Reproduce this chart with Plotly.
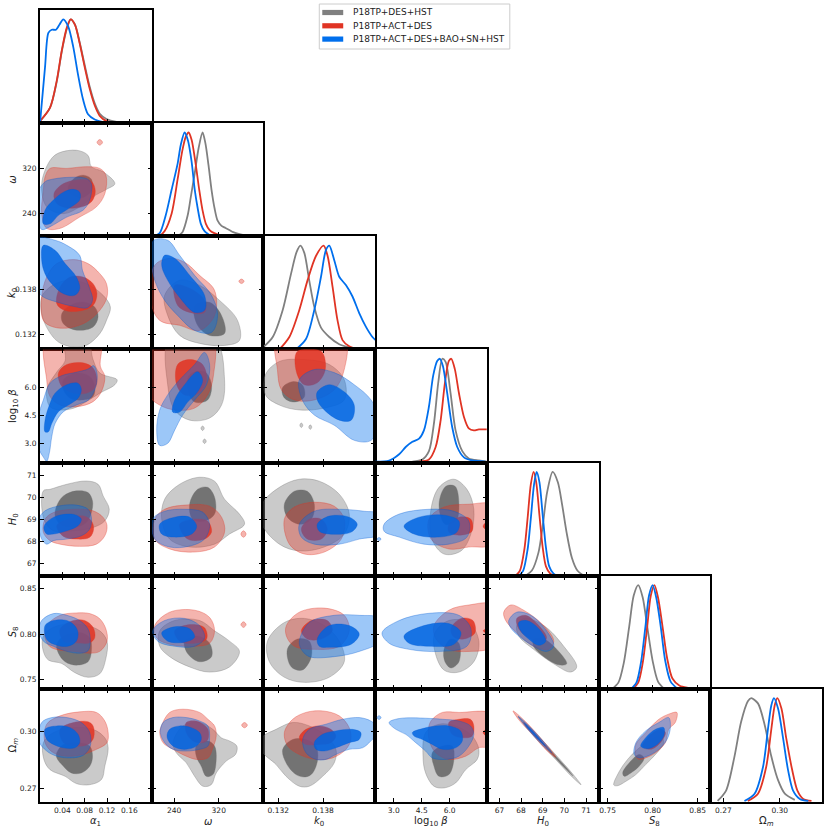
import plotly.graph_objects as go

# ---------------- parameters / axes ----------------
params = ["a1", "w", "k0", "lb", "H0", "S8", "Om"]
axis_titles = ["<i>α</i><sub>1</sub>", "<i>ω</i>", "<i>k</i><sub>0</sub>", "log<sub>10</sub> <i>β</i>",
               "<i>H</i><sub>0</sub>", "<i>S</i><sub>8</sub>", "Ω<sub><i>m</i></sub>"]
ranges = {"a1": [0.0, 0.2], "w": [200, 400], "k0": [0.130, 0.145], "lb": [2.0, 8.0],
          "H0": [66.42, 71.58], "S8": [0.740, 0.864], "Om": [0.263, 0.3225]}
tick_vals = {"a1": [0.04, 0.08, 0.12, 0.16], "w": [240, 320], "k0": [0.132, 0.138],
             "lb": [3.0, 4.5, 6.0], "H0": [67, 68, 69, 70, 71], "S8": [0.75, 0.80, 0.85], "Om": [0.27, 0.30]}
tick_text = {"a1": ["0.04", "0.08", "0.12", "0.16"], "w": ["240", "320"], "k0": ["0.132", "0.138"],
             "lb": ["3.0", "4.5", "6.0"], "H0": ["67", "68", "69", "70", "71"],
             "S8": ["0.75", "0.80", "0.85"], "Om": ["0.27", "0.30"]}

datasets = ["grey", "red", "blue"]
dataset_names = {"grey": "P18TP+DES+HST", "red": "P18TP+ACT+DES", "blue": "P18TP+ACT+DES+BAO+SN+HST"}
line_colors = {"grey": "#808080", "red": "#E03424", "blue": "#006FED"}
outer_fill = {"grey": "rgba(128,128,128,0.42)", "red": "rgba(224,52,36,0.37)", "blue": "rgba(0,111,237,0.39)"}
inner_fill = {"grey": "rgba(100,100,100,0.85)", "red": "rgba(224,52,36,0.88)", "blue": "rgba(0,100,225,0.85)"}
edge_col = {"grey": "rgba(110,110,110,0.55)", "red": "rgba(224,52,36,0.55)", "blue": "rgba(0,90,210,0.55)"}

# ---------------- 1D marginals (x, normalised density) ----------------
marg_a1 = {
    "grey": ([0.0, 0.018, 0.03, 0.039, 0.048, 0.055, 0.0625, 0.071, 0.080, 0.089, 0.098, 0.107, 0.119, 0.137, 0.155, 0.18],
             [0.02, 0.15, 0.40, 0.69, 0.91, 1.0, 0.95, 0.78, 0.56, 0.35, 0.19, 0.09, 0.04, 0.012, 0.004, 0.0]),
    "red": ([0.0, 0.018, 0.03, 0.039, 0.048, 0.055, 0.0625, 0.071, 0.080, 0.089, 0.098, 0.107, 0.119, 0.137, 0.155],
            [0.02, 0.15, 0.41, 0.70, 0.92, 1.0, 0.95, 0.77, 0.54, 0.33, 0.17, 0.07, 0.02, 0.005, 0.0]),
    "blue": ([0.0, 0.009, 0.015, 0.021, 0.0286, 0.035, 0.0417, 0.0506, 0.0595, 0.068, 0.077, 0.086, 0.098, 0.113, 0.13],
             [0.0, 0.54, 0.87, 0.90, 0.90, 0.95, 1.0, 0.93, 0.735, 0.47, 0.23, 0.085, 0.035, 0.01, 0.0]),
}
marg_w = {
    "grey": ([246, 255, 264.3, 270, 276.8, 284, 291, 296, 301.8, 307, 312.5, 318, 325, 332, 339, 346, 354, 365, 375],
             [0.0, 0.04, 0.2, 0.38, 0.6, 0.85, 1.0, 0.9, 0.68, 0.45, 0.27, 0.15, 0.1, 0.08, 0.06, 0.04, 0.025, 0.01, 0.0]),
    "red": ([214, 223.2, 235.7, 246.4, 255, 261, 266, 271.4, 278.6, 285, 291, 297, 303.6, 312, 320, 330],
            [0.0, 0.05, 0.22, 0.55, 0.83, 0.96, 1.0, 0.93, 0.7, 0.45, 0.25, 0.12, 0.06, 0.03, 0.015, 0.0]),
    "blue": ([205, 214.3, 225, 235.7, 246.4, 252, 258.9, 265, 271.4, 277, 282, 288, 294.6, 307],
             [0.0, 0.03, 0.2, 0.45, 0.7, 0.88, 1.0, 0.92, 0.72, 0.45, 0.28, 0.12, 0.05, 0.0]),
}
marg_k0 = {
    "grey": ([0.1301, 0.13125, 0.13259, 0.13371, 0.13446, 0.13496, 0.13549, 0.13616, 0.13683, 0.13773, 0.13884, 0.14018, 0.14152, 0.14286, 0.1445],
             [0.03, 0.12, 0.38, 0.73, 0.94, 1.0, 0.93, 0.66, 0.41, 0.21, 0.12, 0.05, 0.02, 0.005, 0.0]),
    "red": ([0.13214, 0.13348, 0.13482, 0.13594, 0.13705, 0.13808, 0.13862, 0.13929, 0.13995, 0.14062, 0.14152, 0.14286],
            [0.0, 0.12, 0.38, 0.67, 0.9, 1.0, 0.9, 0.6, 0.28, 0.09, 0.03, 0.0]),
    "blue": ([0.13437, 0.13571, 0.13683, 0.13773, 0.1384, 0.13884, 0.13951, 0.14018, 0.14107, 0.14196, 0.14286, 0.14375, 0.14464, 0.1452],
             [0.0, 0.1, 0.38, 0.7, 0.96, 1.0, 0.86, 0.7, 0.62, 0.51, 0.35, 0.22, 0.12, 0.08]),
}
marg_lb = {
    "grey": ([4.0, 4.535, 4.89, 5.16, 5.39, 5.61, 5.785, 6.05, 6.32, 6.68, 7.03, 7.57, 8.0],
             [0.01, 0.03, 0.11, 0.38, 0.77, 1.0, 0.97, 0.67, 0.31, 0.11, 0.04, 0.02, 0.01]),
    "red": ([4.36, 4.89, 5.25, 5.52, 5.75, 5.96, 6.09, 6.28, 6.5, 6.77, 7.03, 7.30, 7.57, 7.84, 8.0],
            [0.01, 0.03, 0.15, 0.41, 0.77, 0.98, 1.0, 0.9, 0.67, 0.44, 0.33, 0.31, 0.32, 0.32, 0.32]),
    "blue": ([2.0, 2.75, 3.29, 3.64, 4.0, 4.36, 4.62, 4.89, 5.12, 5.34, 5.48, 5.64, 5.87, 6.14, 6.41, 6.77, 7.21, 7.93],
             [0.01, 0.02, 0.08, 0.15, 0.2, 0.23, 0.31, 0.54, 0.84, 0.98, 1.0, 0.93, 0.67, 0.34, 0.15, 0.05, 0.02, 0.01]),
}
marg_H0 = {
    "grey": ([68.2, 68.5, 68.8, 69.0, 69.2, 69.46, 69.7, 69.9, 70.1, 70.35, 70.6, 70.9],
             [0.0, 0.05, 0.22, 0.48, 0.8, 1.0, 0.9, 0.68, 0.42, 0.17, 0.05, 0.0]),
    "red": ([67.75, 67.95, 68.15, 68.3, 68.45, 68.58, 68.7, 68.85, 69.0, 69.15, 69.35, 69.55],
            [0.0, 0.05, 0.25, 0.55, 0.88, 1.0, 0.9, 0.58, 0.27, 0.09, 0.02, 0.0]),
    "blue": ([67.9, 68.1, 68.3, 68.45, 68.6, 68.72, 68.85, 69.0, 69.15, 69.3, 69.5, 69.7],
             [0.0, 0.05, 0.25, 0.55, 0.88, 1.0, 0.9, 0.58, 0.27, 0.09, 0.02, 0.0]),
}
marg_S8 = {
    "grey": ([0.755, 0.762, 0.768, 0.774, 0.779, 0.784, 0.789, 0.794, 0.8, 0.806, 0.813],
             [0.0, 0.06, 0.25, 0.6, 0.9, 1.0, 0.88, 0.6, 0.27, 0.07, 0.0]),
    "red": ([0.778, 0.784, 0.789, 0.794, 0.798, 0.802, 0.806, 0.811, 0.816, 0.822, 0.83, 0.84, 0.85],
            [0.0, 0.06, 0.25, 0.6, 0.9, 1.0, 0.88, 0.6, 0.3, 0.1, 0.03, 0.01, 0.0]),
    "blue": ([0.776, 0.782, 0.787, 0.792, 0.796, 0.8, 0.804, 0.809, 0.814, 0.82, 0.828],
             [0.0, 0.06, 0.25, 0.6, 0.9, 1.0, 0.88, 0.6, 0.27, 0.07, 0.0]),
}
marg_Om = {
    "grey": ([0.2669, 0.2714, 0.2759, 0.2794, 0.2830, 0.2848, 0.2884, 0.2920, 0.2955, 0.2991, 0.3027, 0.3080],
             [0.01, 0.11, 0.44, 0.77, 0.97, 1.0, 0.95, 0.74, 0.44, 0.21, 0.08, 0.02]),
    "red": ([0.2830, 0.2884, 0.2928, 0.2955, 0.2973, 0.2987, 0.3009, 0.3035, 0.3066, 0.3094, 0.3125, 0.3169],
            [0.01, 0.08, 0.34, 0.7, 0.93, 1.0, 0.9, 0.61, 0.31, 0.11, 0.03, 0.01]),
    "blue": ([0.2812, 0.2866, 0.2911, 0.2937, 0.2955, 0.2969, 0.2991, 0.3018, 0.3044, 0.3071, 0.3107, 0.3152],
             [0.01, 0.08, 0.34, 0.7, 0.93, 1.0, 0.9, 0.61, 0.31, 0.11, 0.03, 0.01]),
}
marginals = {"a1": marg_a1, "w": marg_w, "k0": marg_k0, "lb": marg_lb, "H0": marg_H0, "S8": marg_S8, "Om": marg_Om}

# ---------------- 2D credible regions (outer = 95%, inner = 68%) ----------------
c_w_a1 = {
    "grey": {"outer": [[(0.003, 293), (0.018, 334), (0.033, 347), (0.066, 352), (0.086, 343), (0.092, 323), (0.113, 314), (0.134, 293), (0.119, 283), (0.095, 270), (0.071, 252), (0.042, 240), (0.012, 252)]],
             "inner": [[(0.05, 285), (0.062, 303), (0.078, 308), (0.092, 301), (0.092, 280), (0.075, 268), (0.058, 272)]]},
    "red": {"outer": [[(0.009, 305), (0.018, 320), (0.048, 320), (0.083, 323), (0.107, 320), (0.118, 308), (0.116, 275), (0.101, 252), (0.071, 234), (0.036, 214), (0.012, 214), (0.003, 240), (0.006, 281)],
                      [(0.102, 366), (0.107, 371), (0.112, 366), (0.107, 361)]],
            "inner": [[(0.025, 275), (0.04, 292), (0.07, 300), (0.092, 297), (0.099, 280), (0.093, 262), (0.075, 252), (0.05, 250), (0.03, 258)]]},
    "blue": {"outer": [[(-0.003, 280), (0.01, 297), (0.018, 300), (0.048, 304), (0.083, 302), (0.092, 293), (0.089, 264), (0.077, 246), (0.048, 234), (0.018, 217), (0.003, 212), (-0.003, 230)]],
             "inner": [[(0.009, 246), (0.024, 264), (0.042, 278), (0.059, 283), (0.071, 278), (0.071, 264), (0.056, 252), (0.033, 237), (0.018, 222), (0.006, 222)]]},
}
c_k0_a1 = {
    "grey": {"outer": [[(0.003, 0.13695), (0.018, 0.13828), (0.048, 0.13916), (0.083, 0.13872), (0.113, 0.13717), (0.126, 0.13562), (0.119, 0.13385), (0.107, 0.13209), (0.083, 0.13054), (0.06, 0.13031), (0.033, 0.13098), (0.015, 0.13253), (0.003, 0.13474)]],
             "inner": [[(0.039, 0.13474), (0.054, 0.13584), (0.077, 0.13629), (0.098, 0.13562), (0.104, 0.1343), (0.095, 0.13297), (0.071, 0.13253), (0.051, 0.13288), (0.04, 0.13363)]]},
    "red": {"outer": [[(0.003, 0.13695), (0.012, 0.1396), (0.03, 0.14138), (0.06, 0.14191), (0.086, 0.14138), (0.107, 0.14005), (0.119, 0.13872), (0.12, 0.13695), (0.107, 0.13518), (0.083, 0.13363), (0.054, 0.13288), (0.024, 0.13297), (0.006, 0.13385)]],
            "inner": [[(0.03, 0.13607), (0.036, 0.13828), (0.054, 0.1396), (0.077, 0.1396), (0.095, 0.13872), (0.102, 0.13739), (0.095, 0.13584), (0.071, 0.1351), (0.044, 0.13518)]]},
    "blue": {"outer": [[(-0.004, 0.1447), (0.027, 0.14447), (0.048, 0.1438), (0.071, 0.14248), (0.076, 0.14049), (0.088, 0.13828), (0.094, 0.13651), (0.085, 0.13554), (0.06, 0.13571), (0.03, 0.13629), (0.006, 0.13695), (-0.004, 0.13783)]],
             "inner": [[(0.006, 0.1438), (0.027, 0.14314), (0.045, 0.14138), (0.065, 0.1396), (0.071, 0.13806), (0.062, 0.13717), (0.042, 0.13739), (0.021, 0.13872), (0.009, 0.14005), (0.003, 0.14182)]]},
}
c_lb_a1 = {
    "grey": {"outer": [[(0.045, 8.5), (0.085, 8.5), (0.095, 7.46), (0.107, 6.75), (0.138, 6.39), (0.134, 6.13), (0.107, 5.68), (0.083, 5.23), (0.06, 4.88), (0.036, 4.79), (0.018, 4.96), (0.012, 5.86), (0.03, 6.8), (0.045, 7.4)]],
             "inner": [[(0.042, 6.39), (0.065, 6.75), (0.089, 6.57), (0.098, 6.04), (0.095, 5.5), (0.077, 5.32), (0.054, 5.41), (0.042, 5.86)]]},
    "red": {"outer": [[(0.012, 8.6), (0.107, 8.6), (0.108, 7.11), (0.116, 6.57), (0.110, 5.77), (0.095, 5.23), (0.065, 4.96), (0.036, 5.05), (0.018, 5.5), (0.012, 6.39)]],
            "inner": [[(0.033, 6.75), (0.048, 7.2), (0.077, 7.29), (0.095, 7.02), (0.102, 6.39), (0.098, 5.95), (0.083, 5.68), (0.06, 5.68), (0.039, 6.04)]]},
    "blue": {"outer": [[(0.096, 7.14), (0.102, 6.75), (0.1, 6.04), (0.088, 5.35), (0.065, 5.05), (0.042, 4.7), (0.027, 4.07), (0.021, 3.36), (0.017, 2.55), (0.012, 2.07), (0.006, 2.29), (-0.003, 2.82), (-0.003, 4.43), (0.006, 5.32), (0.018, 6.21), (0.039, 6.61), (0.065, 6.79), (0.086, 6.96)]],
             "inner": [[(0.018, 5.14), (0.027, 5.68), (0.048, 6.13), (0.068, 6.21), (0.074, 5.86), (0.068, 5.41), (0.051, 5.05), (0.033, 4.7), (0.021, 4.07), (0.015, 3.63), (0.009, 3.63), (0.009, 4.25)]]},
}
c_H0_a1 = {
    "grey": {"outer": [[(0.006, 70.29), (0.018, 70.36), (0.048, 70.59), (0.083, 70.74), (0.104, 70.59), (0.113, 70.06), (0.124, 69.45), (0.116, 68.92), (0.095, 68.62), (0.06, 68.47), (0.024, 68.47), (0.007, 69.0)]],
             "inner": [[(0.03, 69.61), (0.042, 70.06), (0.065, 70.29), (0.086, 70.21), (0.094, 69.83), (0.092, 69.3), (0.083, 68.85), (0.06, 68.62), (0.036, 68.77), (0.027, 69.15)]]},
    "red": {"outer": [[(0.009, 69.0), (0.024, 69.3), (0.06, 69.45), (0.095, 69.38), (0.113, 69.08), (0.12, 68.7), (0.116, 68.24), (0.101, 67.86), (0.071, 67.76), (0.036, 67.86), (0.018, 68.02), (0.006, 68.4)]],
            "inner": [[(0.03, 68.7), (0.048, 69.0), (0.077, 69.15), (0.092, 68.92), (0.096, 68.55), (0.089, 68.17), (0.065, 68.09), (0.042, 68.21)]]},
    "blue": {"outer": [[(-0.002, 69.0), (0.009, 69.38), (0.036, 69.61), (0.065, 69.64), (0.086, 69.45), (0.092, 69.08), (0.089, 68.55), (0.074, 68.24), (0.048, 68.09), (0.024, 68.02), (0.012, 67.86), (0.003, 68.09)]],
             "inner": [[(0.009, 68.77), (0.024, 69.08), (0.048, 69.23), (0.065, 69.18), (0.074, 69.0), (0.068, 68.7), (0.048, 68.47), (0.024, 68.32), (0.012, 68.32), (0.007, 68.55)]]},
}
c_S8_a1 = {
    "grey": {"outer": [[(0.005, 0.7961), (0.018, 0.8055), (0.048, 0.8112), (0.083, 0.8093), (0.107, 0.8036), (0.12, 0.7923), (0.118, 0.7735), (0.107, 0.7565), (0.086, 0.7527), (0.062, 0.7579), (0.039, 0.7678), (0.015, 0.7716), (0.006, 0.7811)]],
             "inner": [[(0.03, 0.7886), (0.042, 0.798), (0.071, 0.8017), (0.089, 0.7961), (0.092, 0.7811), (0.086, 0.7697), (0.065, 0.766), (0.045, 0.7697), (0.033, 0.7791)]]},
    "red": {"outer": [[(0.012, 0.8093), (0.036, 0.8206), (0.065, 0.8232), (0.089, 0.8225), (0.107, 0.8168), (0.118, 0.8055), (0.12, 0.7923), (0.107, 0.7811), (0.089, 0.7791), (0.06, 0.7811), (0.036, 0.7823), (0.018, 0.7861), (0.009, 0.7961)]],
            "inner": [[(0.036, 0.8055), (0.06, 0.8149), (0.08, 0.8149), (0.095, 0.8074), (0.098, 0.7961), (0.089, 0.7904), (0.065, 0.7904), (0.042, 0.7923)]]},
    "blue": {"outer": [[(0.003, 0.8149), (0.024, 0.8225), (0.048, 0.8206), (0.071, 0.8149), (0.086, 0.8055), (0.09, 0.7923), (0.086, 0.7818), (0.071, 0.7791), (0.048, 0.7811), (0.024, 0.7867), (0.006, 0.7923), (-0.002, 0.8036)]],
             "inner": [[(0.009, 0.8093), (0.024, 0.8149), (0.048, 0.8149), (0.062, 0.8093), (0.068, 0.8017), (0.065, 0.7923), (0.05, 0.7867), (0.03, 0.7878), (0.012, 0.7942)]]},
}
c_Om_a1 = {
    "grey": {"outer": [[(0.006, 0.2942), (0.024, 0.2995), (0.06, 0.3021), (0.095, 0.3012), (0.116, 0.2968), (0.122, 0.2915), (0.116, 0.2818), (0.11, 0.2748), (0.089, 0.2721), (0.065, 0.2727), (0.045, 0.2765), (0.018, 0.28), (0.007, 0.2854)]],
             "inner": [[(0.03, 0.2889), (0.042, 0.2933), (0.071, 0.2942), (0.089, 0.2924), (0.094, 0.2871), (0.089, 0.2818), (0.074, 0.2783), (0.056, 0.2783), (0.039, 0.2827), (0.03, 0.2863)]]},
    "red": {"outer": [[(0.012, 0.3039), (0.036, 0.3083), (0.071, 0.3104), (0.101, 0.3101), (0.116, 0.3056), (0.122, 0.2995), (0.12, 0.2942), (0.101, 0.2907), (0.077, 0.288), (0.048, 0.2871), (0.024, 0.2889), (0.009, 0.2942)]],
            "inner": [[(0.036, 0.3012), (0.06, 0.3048), (0.086, 0.3052), (0.095, 0.303), (0.096, 0.2968), (0.086, 0.2933), (0.065, 0.2924), (0.042, 0.2942)]]},
    "blue": {"outer": [[(0.003, 0.3048), (0.021, 0.3074), (0.048, 0.3074), (0.074, 0.3048), (0.089, 0.2995), (0.09, 0.2924), (0.077, 0.2875), (0.054, 0.2862), (0.03, 0.2871), (0.012, 0.2898), (-0.002, 0.2951)]],
             "inner": [[(0.009, 0.3012), (0.03, 0.303), (0.054, 0.3021), (0.068, 0.2986), (0.071, 0.2942), (0.062, 0.2915), (0.042, 0.2915), (0.024, 0.2933), (0.012, 0.2959)]]},
}
c_k0_w = {
    "grey": {"outer": [[(223.2, 0.13717), (250, 0.13916), (285.7, 0.1385), (321.4, 0.1365), (353.6, 0.13385), (357.1, 0.1312), (330.4, 0.13053), (285.7, 0.1308), (250, 0.13186), (228.6, 0.13451)]],
             "inner": [[(276.8, 0.13584), (303.6, 0.13624), (325, 0.13451), (330.4, 0.13212), (303.6, 0.13186), (282.1, 0.13319)]]},
    "red": {"outer": [[(205.4, 0.14115), (232.1, 0.14208), (258.9, 0.14155), (285.7, 0.13982), (312.5, 0.13783), (312.5, 0.13451), (285.7, 0.13252), (250, 0.13319), (214.3, 0.13385), (198, 0.1365)],
                      [(356, 0.13903), (360.7, 0.13933), (365.4, 0.13903), (360.7, 0.13873)]],
            "inner": [[(241.1, 0.1385), (267.9, 0.1381), (294.6, 0.1365), (294.6, 0.13491), (267.9, 0.13491), (246.4, 0.13584)]]},
    "blue": {"outer": [[(203.6, 0.14447), (228.6, 0.14447), (250, 0.14248), (276.8, 0.13982), (307.1, 0.13717), (317.9, 0.13451), (307.1, 0.13226), (276.8, 0.13252), (246.4, 0.13451), (223.2, 0.1365), (205.4, 0.13916), (198, 0.14248)]],
             "inner": [[(223.2, 0.14248), (241.1, 0.14208), (267.9, 0.13982), (294.6, 0.13717), (294.6, 0.13518), (276.8, 0.13491), (250, 0.1369), (228.6, 0.13916), (217.9, 0.14115)]]},
}
c_lb_w = {
    "grey": {"outer": [[(232.1, 8.6), (312.5, 8.6), (330.4, 6.39), (325, 5.05), (303.6, 4.36), (267.9, 4.25), (241.1, 4.79), (228.6, 6.13)],
                       [(288.1, 3.82), (291.1, 3.94), (294.1, 3.82), (291.1, 3.7)],
                       [(291.6, 3.13), (294.6, 3.25), (297.6, 3.13), (294.6, 3.01)]],
             "inner": [[(267.9, 6.66), (294.6, 6.82), (307.1, 6.13), (300, 5.32), (276.8, 5.21), (264.3, 5.86)]]},
    "red": {"outer": [[(195, 8.6), (307.1, 8.6), (310.7, 6.66), (300, 5.59), (276.8, 4.89), (241.1, 4.79), (214.3, 5.05), (195, 5.59)]],
            "inner": [[(246.4, 7.2), (267.9, 7.46), (291.1, 7.2), (298.2, 6.39), (285.7, 5.7), (258.9, 5.59), (244.6, 6.13)]]},
    "blue": {"outer": [[(294.6, 7.84), (303.6, 7.2), (298.2, 6.13), (276.8, 5.32), (255.4, 4.52), (241.1, 3.72), (228.6, 3.02), (214.3, 2.91), (208.9, 3.72), (214.3, 4.79), (228.6, 5.59), (250, 6.39), (276.8, 7.2)]],
             "inner": [[(282.1, 6.82), (291.1, 6.39), (282.1, 5.75), (264.3, 5.21), (250, 4.68), (237.5, 4.68), (241.1, 5.32), (258.9, 6.13)]]},
}
c_H0_w = {
    "grey": {"outer": [[(223.2, 69.91), (250, 70.59), (285.7, 70.91), (312.5, 70.73), (330.4, 69.91), (357.1, 69.23), (366.1, 68.77), (339.3, 68.32), (312.5, 67.86), (267.9, 67.73), (232.1, 68.09), (217.9, 69.0)]],
             "inner": [[(267.9, 69.68), (282.1, 70.36), (300, 70.45), (312.5, 70.0), (312.5, 69.23), (294.6, 68.91), (273.2, 69.0)]]},
    "red": {"outer": [[(205.4, 69.0), (223.2, 69.45), (258.9, 69.64), (303.6, 69.59), (325, 69.09), (330.4, 68.41), (312.5, 67.73), (276.8, 67.5), (232.1, 67.64), (205.4, 68.09)],
                      [(359.6, 68.32), (364.3, 68.47), (369, 68.32), (364.3, 68.17)]],
            "inner": [[(250, 68.77), (276.8, 69.0), (300, 68.91), (307.1, 68.41), (294.6, 68.09), (264.3, 68.09)]]},
    "blue": {"outer": [[(201.8, 69.0), (223.2, 69.36), (258.9, 69.45), (291.1, 69.32), (303.6, 68.77), (294.6, 68.09), (267.9, 67.77), (232.1, 67.73), (205.4, 68.09)]],
             "inner": [[(214.3, 68.77), (241.1, 69.09), (267.9, 69.09), (280.4, 68.68), (271.4, 68.32), (241.1, 68.18), (217.9, 68.32)]]},
}
c_S8_w = {
    "grey": {"outer": [[(214.3, 0.8036), (241.1, 0.8149), (285.7, 0.8149), (312.5, 0.8036), (339.3, 0.7923), (357.1, 0.781), (339.3, 0.764), (303.6, 0.7584), (267.9, 0.764), (232.1, 0.7753), (214.3, 0.7867)]],
             "inner": [[(258.9, 0.7923), (282.1, 0.798), (303.6, 0.79), (307.1, 0.7753), (285.7, 0.7697), (264.3, 0.7787)]]},
    "red": {"outer": [[(205.4, 0.8093), (232.1, 0.824), (276.8, 0.8262), (303.6, 0.8183), (312.5, 0.8036), (303.6, 0.79), (276.8, 0.7867), (232.1, 0.7889), (208.9, 0.7957)],
                      [(359.6, 0.8104), (364.3, 0.8135), (369, 0.8104), (364.3, 0.8073)]],
            "inner": [[(241.1, 0.8036), (267.9, 0.8104), (294.6, 0.807), (298.2, 0.7946), (276.8, 0.79), (250, 0.7923)]]},
    "blue": {"outer": [[(201.8, 0.8036), (223.2, 0.8149), (258.9, 0.8172), (285.7, 0.8093), (294.6, 0.7957), (276.8, 0.7867), (241.1, 0.7867), (210.7, 0.7923)]],
             "inner": [[(217.9, 0.8014), (241.1, 0.8081), (267.9, 0.8059), (276.8, 0.7968), (258.9, 0.7912), (228.6, 0.7923)]]},
}
c_Om_w = {
    "grey": {"outer": [[(255.9, 0.303), (285.7, 0.3048), (309.5, 0.3012), (324.4, 0.2968), (339.3, 0.2951), (352.4, 0.2924), (350, 0.288), (333.3, 0.2845), (315.5, 0.2783), (306.5, 0.2721), (291.7, 0.2713), (276.8, 0.2765), (261.9, 0.2836), (244, 0.2889), (238.1, 0.2942)]],
             "inner": [[(279.8, 0.2924), (300.6, 0.2951), (312.5, 0.2924), (315.5, 0.2854), (309.5, 0.2774), (297.6, 0.2765), (288.7, 0.2818), (279.8, 0.2871)]]},
    "red": {"outer": [[(217.3, 0.303), (232.1, 0.3101), (255.9, 0.3118), (285.7, 0.3101), (300.6, 0.3065), (312.5, 0.303), (315.5, 0.2977), (309.5, 0.2915), (300.6, 0.2862), (279.8, 0.2854), (261.9, 0.2871), (238.1, 0.2907), (220.2, 0.2942), (214.3, 0.2995)],
                      [(361, 0.3034), (366.1, 0.3048), (371.2, 0.3034), (366.1, 0.302)]],
            "inner": [[(261.9, 0.3048), (279.8, 0.3056), (291.7, 0.3039), (300.6, 0.3012), (300.6, 0.2959), (291.7, 0.2942), (273.8, 0.2951), (261.9, 0.2995)]]},
    "blue": {"outer": [[(220.2, 0.3048), (238.1, 0.3074), (261.9, 0.3074), (285.7, 0.3056), (300.6, 0.303), (303.6, 0.2968), (300.6, 0.2924), (285.7, 0.2907), (261.9, 0.2898), (238.1, 0.2907), (223.2, 0.2942), (215.5, 0.2995)]],
             "inner": [[(232.1, 0.3012), (250, 0.303), (270.8, 0.3021), (285.7, 0.2995), (288.7, 0.2959), (279.8, 0.2924), (261.9, 0.2907), (244, 0.2915), (232.1, 0.2942), (227.4, 0.2977)]]},
}
c_lb_k0 = {
    "grey": {"outer": [[(0.13027, 6.66), (0.13214, 7.36), (0.13549, 7.46), (0.13884, 7.2), (0.14085, 6.39), (0.14085, 5.32), (0.13817, 4.89), (0.13482, 4.79), (0.13214, 5.05), (0.13027, 5.59)],
                       [(0.13489, 3.98), (0.13509, 4.1), (0.13529, 3.98), (0.13509, 3.86)],
                       [(0.13609, 3.88), (0.13629, 4.0), (0.13649, 3.88), (0.13629, 3.76)]],
             "inner": [[(0.13254, 5.96), (0.13388, 6.29), (0.13522, 6.13), (0.13549, 5.48), (0.13415, 5.21), (0.13281, 5.43)]]},
    "red": {"outer": [[(0.13188, 8.6), (0.14085, 8.6), (0.14085, 6.93), (0.13951, 5.86), (0.13683, 5.32), (0.13415, 5.32), (0.13241, 5.86), (0.13188, 6.93)]],
            "inner": [[(0.13455, 7.89), (0.13777, 7.89), (0.1383, 6.93), (0.13723, 6.23), (0.13549, 6.13), (0.13442, 6.82)]]},
    "blue": {"outer": [[(0.13482, 6.39), (0.13683, 6.93), (0.13951, 6.77), (0.14219, 6.13), (0.14446, 5.32), (0.1456, 4.25), (0.14446, 3.18), (0.14219, 3.18), (0.13951, 3.98), (0.13683, 4.52), (0.13522, 5.32)]],
             "inner": [[(0.13723, 5.75), (0.13884, 6.13), (0.14085, 5.75), (0.14219, 5.05), (0.14179, 4.25), (0.14018, 4.25), (0.13817, 4.79), (0.13723, 5.32)]]},
}
c_H0_k0 = {
    "grey": {"outer": [[(0.1298, 69.68), (0.13214, 70.45), (0.13482, 70.82), (0.1375, 70.73), (0.14018, 70.14), (0.14152, 69.23), (0.14085, 68.32), (0.13817, 67.73), (0.13482, 67.55), (0.13214, 67.86), (0.1298, 68.77)]],
             "inner": [[(0.13281, 69.68), (0.13415, 70.27), (0.13589, 70.27), (0.13683, 69.68), (0.13643, 69.0), (0.13482, 68.77), (0.13321, 69.09)]]},
    "red": {"outer": [[(0.13281, 69.0), (0.13415, 69.55), (0.13683, 69.77), (0.13951, 69.59), (0.14085, 69.0), (0.14045, 68.09), (0.13817, 67.5), (0.13549, 67.41), (0.13348, 67.86)]],
            "inner": [[(0.13509, 68.55), (0.13616, 69.0), (0.13777, 69.0), (0.13857, 68.55), (0.13777, 68.09), (0.13589, 68.09)]]},
    "blue": {"outer": [[(0.13482, 68.77), (0.13683, 69.36), (0.14018, 69.45), (0.14353, 69.36), (0.1456, 69.23), (0.1456, 68.32), (0.14286, 68.09), (0.14018, 67.86), (0.13683, 67.86), (0.13509, 68.18)]],
             "inner": [[(0.13723, 68.77), (0.13884, 69.14), (0.14152, 69.09), (0.14259, 68.77), (0.14179, 68.41), (0.13884, 68.32), (0.1375, 68.45)]]},
}
c_S8_k0 = {
    "grey": {"outer": [[(0.13054, 0.7923), (0.13281, 0.8127), (0.13549, 0.8172), (0.13817, 0.8093), (0.14018, 0.7923), (0.14085, 0.7697), (0.13884, 0.7527), (0.13549, 0.7471), (0.13281, 0.7527), (0.1308, 0.7697)]],
             "inner": [[(0.13321, 0.7833), (0.13455, 0.7946), (0.13616, 0.7923), (0.13643, 0.7753), (0.13522, 0.7606), (0.13375, 0.764)]]},
    "red": {"outer": [[(0.13308, 0.8093), (0.13482, 0.824), (0.13817, 0.8285), (0.14085, 0.8206), (0.14152, 0.8036), (0.14018, 0.7867), (0.13683, 0.7833), (0.13415, 0.7867), (0.13308, 0.798)]],
            "inner": [[(0.13509, 0.8036), (0.13643, 0.8149), (0.13857, 0.8149), (0.13924, 0.8036), (0.13777, 0.7946), (0.13589, 0.7946)]]},
    "blue": {"outer": [[(0.13482, 0.7923), (0.13616, 0.8127), (0.13951, 0.8206), (0.14286, 0.8206), (0.1456, 0.8172), (0.1456, 0.7923), (0.14286, 0.781), (0.13951, 0.7753), (0.13616, 0.7753), (0.13509, 0.7833)]],
             "inner": [[(0.13723, 0.7946), (0.13884, 0.8093), (0.14152, 0.8093), (0.14286, 0.8002), (0.14179, 0.7889), (0.13884, 0.7855), (0.1375, 0.7867)]]},
}
c_Om_k0 = {
    "grey": {"outer": [[(0.1298, 0.2968), (0.1317, 0.3012), (0.13393, 0.3048), (0.13616, 0.303), (0.13839, 0.2977), (0.13973, 0.2907), (0.13951, 0.2836), (0.13795, 0.2765), (0.13616, 0.2713), (0.13482, 0.2713), (0.13304, 0.2765), (0.1317, 0.2827), (0.1298, 0.2898)]],
             "inner": [[(0.13259, 0.2907), (0.13393, 0.2959), (0.13571, 0.2959), (0.13705, 0.2924), (0.13728, 0.2854), (0.13661, 0.2783), (0.13571, 0.2762), (0.13438, 0.2774), (0.13304, 0.2836)]]},
    "red": {"outer": [[(0.13281, 0.2995), (0.13393, 0.3065), (0.13571, 0.3101), (0.13795, 0.3109), (0.14018, 0.3083), (0.14152, 0.3021), (0.14174, 0.2959), (0.14107, 0.2907), (0.13929, 0.2862), (0.13705, 0.2854), (0.13482, 0.288), (0.13326, 0.2924)]],
            "inner": [[(0.13482, 0.2968), (0.13571, 0.3012), (0.1375, 0.303), (0.13906, 0.3012), (0.13973, 0.2977), (0.13906, 0.2942), (0.1375, 0.2933), (0.13571, 0.2933)]]},
    "blue": {"outer": [[(0.13527, 0.2959), (0.13616, 0.3012), (0.13839, 0.3039), (0.14063, 0.3065), (0.14286, 0.3074), (0.14442, 0.3056), (0.1456, 0.3012), (0.14442, 0.2951), (0.1433, 0.2915), (0.14152, 0.2907), (0.13973, 0.288), (0.13839, 0.2854), (0.13705, 0.2854), (0.13571, 0.2889)]],
             "inner": [[(0.13683, 0.2942), (0.13795, 0.2986), (0.13973, 0.3004), (0.14196, 0.3012), (0.14308, 0.2995), (0.14286, 0.2959), (0.14152, 0.2942), (0.13973, 0.2915), (0.13817, 0.2898), (0.13705, 0.2907)]]},
}
c_H0_lb = {
    "grey": {"outer": [[(5.0, 69.45), (5.43, 70.45), (6.23, 70.82), (6.93, 70.36), (7.3, 69.45), (7.14, 68.32), (6.61, 67.55), (5.7, 67.41), (5.05, 68.09)]],
             "inner": [[(5.43, 69.68), (5.8, 70.5), (6.29, 70.5), (6.5, 69.68), (6.34, 68.91), (5.75, 68.77)]]},
    "red": {"outer": [[(4.89, 69.0), (5.7, 69.55), (7.03, 69.68), (8.3, 69.64), (8.3, 67.86), (7.03, 67.73), (5.96, 67.64), (5.0, 68.09)]],
            "inner": [[(5.96, 68.77), (6.5, 69.09), (7.14, 69.0), (7.2, 68.45), (6.5, 68.27), (5.96, 68.41)],
                      [(7.8, 68.68), (7.95, 68.83), (8.1, 68.68), (7.95, 68.53)]]},
    "blue": {"outer": [[(2.48, 68.77), (3.29, 69.23), (4.89, 69.45), (6.23, 69.36), (7.03, 68.91), (6.93, 68.18), (5.96, 67.86), (4.62, 67.86), (3.29, 68.18), (2.48, 68.45)],
                       [(2.1, 68.09), (2.21, 68.16), (2.32, 68.09), (2.21, 68.02)]],
             "inner": [[(3.55, 68.68), (4.36, 69.09), (5.7, 69.18), (6.5, 68.91), (6.39, 68.41), (5.43, 68.18), (4.09, 68.32)]]},
}
c_S8_lb = {
    "grey": {"outer": [[(5.21, 0.8014), (5.96, 0.8149), (7.03, 0.8127), (7.57, 0.7923), (7.3, 0.7697), (6.5, 0.7584), (5.7, 0.7606), (5.21, 0.781)]],
             "inner": [[(5.7, 0.7833), (6.07, 0.7946), (6.5, 0.79), (6.5, 0.7697), (6.07, 0.7629), (5.75, 0.7697)]]},
    "red": {"outer": [[(5.16, 0.8093), (5.96, 0.8262), (7.03, 0.8319), (8.3, 0.8319), (8.3, 0.7867), (7.03, 0.781), (5.96, 0.7833), (5.27, 0.7946)]],
            "inner": [[(6.07, 0.8059), (6.61, 0.8172), (7.25, 0.8149), (7.36, 0.8014), (6.77, 0.7946), (6.23, 0.7968)],
                      [(7.8, 0.8036), (7.95, 0.8056), (8.1, 0.8036), (7.95, 0.8016)]]},
    "blue": {"outer": [[(2.37, 0.8014), (3.29, 0.8149), (4.89, 0.8228), (6.5, 0.8206), (7.14, 0.8059), (6.93, 0.7867), (5.43, 0.781), (3.82, 0.7833), (2.75, 0.79)]],
             "inner": [[(3.55, 0.798), (4.62, 0.8093), (5.96, 0.8115), (6.61, 0.8014), (6.23, 0.7889), (4.89, 0.7867), (3.82, 0.79)]]},
}
c_Om_lb = {
    "grey": {"outer": [[(4.71, 0.2995), (5.43, 0.3039), (6.32, 0.303), (7.21, 0.2977), (7.57, 0.2907), (7.48, 0.2854), (6.86, 0.28), (6.32, 0.273), (5.7, 0.2704), (5.16, 0.2713), (4.71, 0.2783), (4.57, 0.2871)]],
             "inner": [[(5.07, 0.2889), (5.61, 0.2924), (6.14, 0.2924), (6.23, 0.2854), (5.96, 0.2774), (5.43, 0.2765), (5.16, 0.2818)]]},
    "red": {"outer": [[(5.07, 0.3065), (5.61, 0.3101), (6.5, 0.3101), (8.3, 0.3092), (8.3, 0.2924), (7.57, 0.2915), (6.86, 0.2871), (5.96, 0.2854), (5.25, 0.2889), (4.89, 0.2959), (4.89, 0.303)]],
            "inner": [[(5.96, 0.3048), (6.5, 0.3065), (7.12, 0.3065), (7.3, 0.303), (7.21, 0.2977), (6.68, 0.2968), (6.14, 0.2986)],
                      [(7.8, 0.2995), (7.95, 0.3011), (8.1, 0.2995), (7.95, 0.2979)]]},
    "blue": {"outer": [[(2.75, 0.3048), (3.29, 0.3069), (5.07, 0.3069), (5.61, 0.3065), (6.5, 0.3056), (7.12, 0.303), (7.3, 0.2986), (7.03, 0.2924), (6.5, 0.2871), (5.79, 0.2854), (5.07, 0.2862), (4.71, 0.2898), (4.18, 0.2942), (3.64, 0.2986), (3.11, 0.3012)],
                       [(2.1, 0.3074), (2.21, 0.3084), (2.32, 0.3074), (2.21, 0.3064)]],
             "inner": [[(4.0, 0.2995), (4.54, 0.3016), (5.25, 0.303), (5.96, 0.303), (6.59, 0.3004), (6.68, 0.2951), (6.32, 0.2915), (5.61, 0.2907), (5.07, 0.2933), (4.54, 0.2959), (4.09, 0.2977)]]},
}
c_S8_H0 = {
    "grey": {"outer": [[(67.8, 0.8093), (68.12, 0.8172), (69.05, 0.8093), (69.97, 0.7867), (70.57, 0.764), (70.29, 0.7584), (69.51, 0.7674), (68.58, 0.7833), (67.89, 0.798)]],
             "inner": [[(68.58, 0.7946), (69.05, 0.7946), (69.74, 0.781), (70.11, 0.7674), (69.74, 0.7663), (69.05, 0.7753), (68.58, 0.7867)]]},
    "red": {"outer": [[(67.2, 0.824), (67.52, 0.8319), (68.12, 0.8262), (69.05, 0.8093), (69.51, 0.7923), (69.28, 0.7833), (68.58, 0.7867), (67.8, 0.8014), (67.29, 0.8149)]],
            "inner": [[(67.8, 0.8172), (68.21, 0.8206), (68.82, 0.8093), (69.18, 0.7957), (68.91, 0.79), (68.35, 0.7957), (67.89, 0.8059)]]},
    "blue": {"outer": [[(67.43, 0.8149), (67.8, 0.824), (68.45, 0.8206), (69.18, 0.8036), (69.51, 0.7867), (69.18, 0.781), (68.58, 0.7867), (67.89, 0.798), (67.52, 0.807)]],
             "inner": [[(67.89, 0.8127), (68.26, 0.8149), (68.82, 0.8059), (69.14, 0.7923), (68.82, 0.7878), (68.35, 0.7946), (67.98, 0.8036)]]},
}
c_Om_H0 = {
    "grey": {"outer": [[(67.88, 0.3078), (68.4, 0.3024), (69.2, 0.2928), (70.0, 0.2828), (70.5, 0.2762), (70.77, 0.2721), (70.4, 0.2757), (69.6, 0.2853), (68.8, 0.2951), (68.2, 0.3030)]],
             "inner": [[(68.9, 0.2952), (69.4, 0.2896), (70.0, 0.2822), (70.4, 0.2767), (69.9, 0.2823), (69.3, 0.2897)]]},
    "red": {"outer": [[(67.63, 0.3109), (68.2, 0.3054), (68.9, 0.2967), (69.45, 0.2893), (69.6, 0.2866), (69.2, 0.2900), (68.5, 0.2987), (67.9, 0.3062)]],
            "inner": [[(68.1, 0.3051), (68.6, 0.2996), (69.2, 0.2915), (68.8, 0.2957), (68.3, 0.3019)]]},
    "blue": {"outer": [[(67.86, 0.3081), (68.4, 0.3026), (69.0, 0.2952), (69.42, 0.2888), (68.9, 0.2940), (68.3, 0.3014)]],
             "inner": [[(68.15, 0.3045), (68.6, 0.2995), (69.12, 0.2925), (68.7, 0.2971), (68.3, 0.3020)]]},
}
c_Om_S8 = {
    "grey": {"outer": [[(0.7569, 0.2719), (0.7631, 0.2792), (0.7722, 0.2854), (0.7832, 0.2907), (0.796, 0.2951), (0.8087, 0.2977), (0.8124, 0.2942), (0.8032, 0.288), (0.7923, 0.2827), (0.7814, 0.2774), (0.7704, 0.2739), (0.7613, 0.2716)]],
             "inner": [[(0.7668, 0.2783), (0.7741, 0.2836), (0.785, 0.288), (0.7905, 0.2862), (0.785, 0.2818), (0.7759, 0.2783), (0.7686, 0.2765)]]},
    "red": {"outer": [[(0.7814, 0.2871), (0.7814, 0.2933), (0.7923, 0.2995), (0.8069, 0.3065), (0.8178, 0.3092), (0.8269, 0.3101), (0.8251, 0.3048), (0.8178, 0.3012), (0.8142, 0.2942), (0.8032, 0.2889), (0.7923, 0.2862), (0.785, 0.2854)]],
            "inner": [[(0.7887, 0.2924), (0.796, 0.2977), (0.8087, 0.3012), (0.8142, 0.2995), (0.8087, 0.2942), (0.7978, 0.2907)]]},
    "blue": {"outer": [[(0.7795, 0.288), (0.7814, 0.2942), (0.7923, 0.3004), (0.8069, 0.3048), (0.8178, 0.3074), (0.8197, 0.3021), (0.816, 0.2959), (0.8069, 0.2907), (0.796, 0.2875), (0.785, 0.2862)]],
             "inner": [[(0.7868, 0.2924), (0.7923, 0.2968), (0.8032, 0.3012), (0.8124, 0.3021), (0.8124, 0.2977), (0.8051, 0.2933), (0.7941, 0.291)]]},
}

pairs = {
    ("w", "a1"): c_w_a1, ("k0", "a1"): c_k0_a1, ("lb", "a1"): c_lb_a1, ("H0", "a1"): c_H0_a1,
    ("S8", "a1"): c_S8_a1, ("Om", "a1"): c_Om_a1,
    ("k0", "w"): c_k0_w, ("lb", "w"): c_lb_w, ("H0", "w"): c_H0_w, ("S8", "w"): c_S8_w, ("Om", "w"): c_Om_w,
    ("lb", "k0"): c_lb_k0, ("H0", "k0"): c_H0_k0, ("S8", "k0"): c_S8_k0, ("Om", "k0"): c_Om_k0,
    ("H0", "lb"): c_H0_lb, ("S8", "lb"): c_S8_lb, ("Om", "lb"): c_Om_lb,
    ("S8", "H0"): c_S8_H0, ("Om", "H0"): c_Om_H0,
    ("Om", "S8"): c_Om_S8,
}

# ---------------- build figure ----------------
W, H = 830, 834
ML, MR, MT, MB = 40, 6, 10, 32
fig = go.Figure()
n = len(params)
tickfont = dict(family="DejaVu Sans", size=7.5, color="#222222")
axes_layout = {}
panel_axes = {}
k = 0
for i in range(n):
    for j in range(i + 1):
        k += 1
        sfx = "" if k == 1 else str(k)
        xa, ya = "x" + sfx, "y" + sfx
        panel_axes[(i, j)] = (xa, ya)
        pxk = params[j]
        axes_layout["xaxis" + sfx] = dict(
            domain=[j / n, (j + 1) / n], anchor=ya, range=ranges[pxk],
            tickvals=tick_vals[pxk], ticktext=tick_text[pxk], ticks="inside", ticklen=4, tickwidth=1,
            tickcolor="black", showline=True, linewidth=2, linecolor="black",
            mirror=(True if i == j else "ticks"), showgrid=False, zeroline=False,
            showticklabels=(i == n - 1), tickfont=tickfont)
        if i == j:
            axes_layout["yaxis" + sfx] = dict(
                domain=[1 - (i + 1) / n, 1 - i / n], anchor=xa, range=[0, 1.09],
                showline=True, linewidth=2, linecolor="black", mirror=True, ticks="",
                showticklabels=False, showgrid=False, zeroline=False)
        else:
            pyk = params[i]
            axes_layout["yaxis" + sfx] = dict(
                domain=[1 - (i + 1) / n, 1 - i / n], anchor=xa, range=ranges[pyk],
                tickvals=tick_vals[pyk], ticktext=tick_text[pyk], ticks="inside", ticklen=4, tickwidth=1,
                tickcolor="black", showline=True, linewidth=2, linecolor="black", mirror="ticks",
                showgrid=False, zeroline=False, showticklabels=(j == 0), tickfont=tickfont)


def add_poly(pts, xa, ya, fill, edge):
    xs = [p[0] for p in pts] + [pts[0][0]]
    ys = [p[1] for p in pts] + [pts[0][1]]
    fig.add_trace(go.Scatter(x=xs, y=ys, mode="lines", fill="toself", fillcolor=fill,
                             line=dict(color=edge, width=0.6, shape="spline", smoothing=1.0),
                             hoverinfo="skip", showlegend=False, xaxis=xa, yaxis=ya))


for i in range(n):
    for j in range(i + 1):
        xa, ya = panel_axes[(i, j)]
        if i == j:
            m = marginals[params[i]]
            for d in datasets:
                xs, ys = m[d]
                fig.add_trace(go.Scatter(x=xs, y=ys, mode="lines",
                                         line=dict(color=line_colors[d], width=1.8, shape="spline", smoothing=0.8),
                                         hoverinfo="skip", showlegend=False, xaxis=xa, yaxis=ya))
        else:
            c = pairs[(params[i], params[j])]
            for d in datasets:
                for poly in c[d]["outer"]:
                    add_poly(poly, xa, ya, outer_fill[d], edge_col[d])
                for poly in c[d]["inner"]:
                    add_poly(poly, xa, ya, inner_fill[d], edge_col[d])


def px2paper_x(px):
    return (px - ML) / (W - ML - MR)


def px2paper_y(py):
    return (H - MB - py) / (H - MT - MB)


# legend box drawn in paper coordinates
shapes = [dict(type="rect", xref="paper", yref="paper", x0=px2paper_x(320), x1=px2paper_x(511),
               y0=px2paper_y(49), y1=px2paper_y(4), line=dict(color="#cccccc", width=1), fillcolor="white", layer="above")]
annotations = []
legend_rows = [12.5, 25.8, 39.1]
for d, yc in zip(datasets, legend_rows):
    shapes.append(dict(type="rect", xref="paper", yref="paper", x0=px2paper_x(323), x1=px2paper_x(344),
                       y0=px2paper_y(yc + 2.6), y1=px2paper_y(yc - 2.6), line=dict(width=0),
                       fillcolor=line_colors[d], layer="above"))
    annotations.append(dict(text=dataset_names[d], xref="paper", yref="paper", x=px2paper_x(352), y=px2paper_y(yc),
                            xanchor="left", yanchor="middle", showarrow=False,
                            font=dict(family="DejaVu Sans", size=9, color="#222222")))

for j in range(n):
    annotations.append(dict(text=axis_titles[j], xref="paper", yref="paper", x=(j + 0.5) / n, y=px2paper_y(821),
                            xanchor="center", yanchor="middle", showarrow=False,
                            font=dict(family="DejaVu Sans", size=10, color="#222222")))
for i in range(1, n):
    annotations.append(dict(text=axis_titles[i], xref="paper", yref="paper", x=px2paper_x(13), y=1 - (i + 0.5) / n,
                            xanchor="center", yanchor="middle", showarrow=False, textangle=-90,
                            font=dict(family="DejaVu Sans", size=10, color="#222222")))

fig.update_layout(
    width=W, height=H, autosize=False,
    margin=dict(l=ML, r=MR, t=MT, b=MB, pad=0),
    paper_bgcolor="white", plot_bgcolor="white",
    font=dict(family="DejaVu Sans", color="#222222"),
    showlegend=False,
    shapes=shapes,
    annotations=annotations,
    **axes_layout,
)

fig.write_html("out.html", config={"displayModeBar": False},
               post_script="document.body.style.margin='0px';document.body.style.overflow='hidden';")
